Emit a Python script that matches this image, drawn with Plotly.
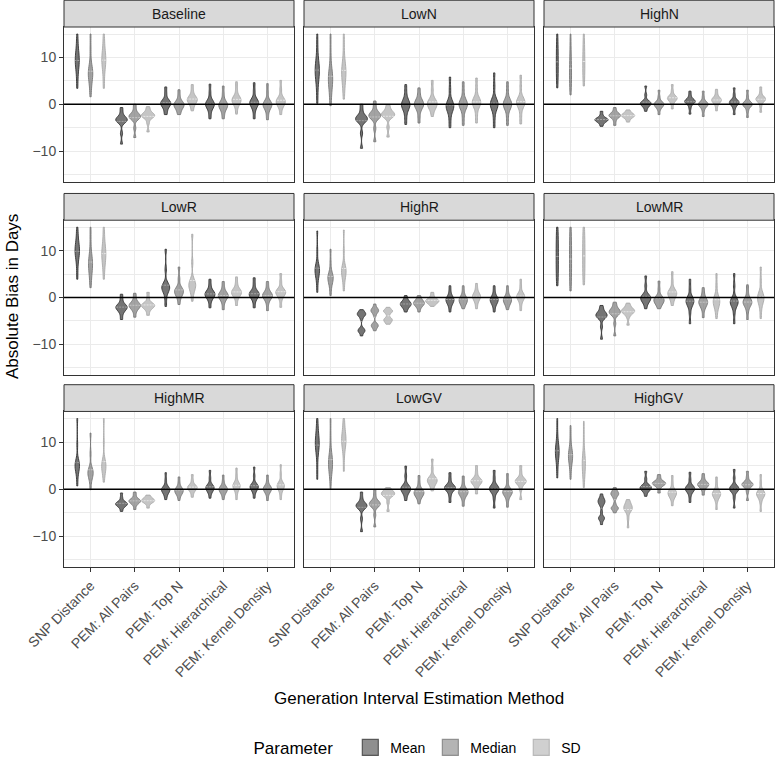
import plotly.graph_objects as go

categories = ["SNP Distance", "PEM: All Pairs", "PEM: Top N", "PEM: Hierarchical", "PEM: Kernel Density"]
panels = ["Baseline", "LowN", "HighN", "LowR", "HighR", "LowMR", "HighMR", "LowGV", "HighGV"]
parameters = ["Mean", "Median", "SD"]

# Each violin: representative bias values (days), one list per method
baseline_mean = [[3.4, 5.5, 7.6, 8.3, 8.9, 9.4, 9.9, 10.5, 11.2, 13.1, 15.0],
                 [-8.5, -6.2, -3.9, -3.7, -3.5, -3.3, -3.1, -2.9, -2.7, -1.7, -0.7],
                 [-2.2, -1.4, -0.5, -0.25, 0.0, 0.2, 0.4, 0.65, 0.9, 2.3, 3.7],
                 [-3.1, -1.9, -0.8, -0.5, -0.22, 0.0, 0.22, 0.5, 0.8, 2.5, 4.3],
                 [-3.1, -1.6, -0.5, -0.2, 0.08, 0.3, 0.52, 0.8, 1.1, 2.8, 4.6]]
baseline_median = [[1.6, 3.3, 5.0, 5.6, 6.15, 6.6, 7.05, 7.6, 8.2, 11.5, 15.0],
                   [-7.1, -5.1, -3.2, -3.0, -2.8, -2.6, -2.4, -2.2, -2.0, -1.0, 0.0],
                   [-2.2, -1.5, -0.8, -0.55, -0.3, -0.1, 0.1, 0.35, 0.6, 1.8, 3.1],
                   [-3.1, -2.0, -1.0, -0.7, -0.42, -0.2, 0.02, 0.3, 0.6, 2.2, 3.9],
                   [-3.3, -2.0, -0.9, -0.6, -0.32, -0.1, 0.12, 0.4, 0.7, 2.5, 4.4]]
baseline_sd = [[3.4, 5.5, 7.7, 8.4, 9.0, 9.5, 10.0, 10.6, 11.3, 13.2, 15.0],
               [-5.9, -4.0, -2.94, -2.73, -2.55, -2.4, -2.25, -2.07, -1.86, -1.2, -0.5],
               [-1.4, -0.4, 0.28, 0.56, 0.8, 1.0, 1.2, 1.44, 1.72, 2.9, 4.2],
               [-2.1, -0.6, 0.1, 0.4, 0.68, 0.9, 1.12, 1.4, 1.7, 3.2, 4.8],
               [-2.2, -0.8, -0.2, 0.1, 0.38, 0.6, 0.82, 1.1, 1.4, 3.2, 5.1]]

lown_mean = [[0.2, 2.7, 5.2, 6.0, 6.65, 7.2, 7.75, 8.4, 9.2, 12.0, 15.0],
             [-9.4, -6.2, -3.8, -3.55, -3.3, -3.1, -2.9, -2.65, -2.4, -1.2, 0.0],
             [-4.3, -2.6, -1.1, -0.7, -0.38, -0.1, 0.18, 0.5, 0.9, 2.5, 4.2],
             [-5.0, -3.2, -1.5, -1.06, -0.7, -0.4, -0.1, 0.26, 0.7, 3.2, 5.8],
             [-5.0, -2.9, -1.1, -0.66, -0.3, 0.0, 0.3, 0.66, 1.1, 3.9, 6.7]]
lown_median = [[-0.3, 1.7, 3.5, 4.3, 4.95, 5.5, 6.05, 6.7, 7.5, 11.0, 15.0],
               [-8.0, -5.2, -3.1, -2.85, -2.6, -2.4, -2.2, -1.95, -1.7, -0.5, 0.7],
               [-4.0, -2.4, -0.9, -0.55, -0.25, 0.0, 0.25, 0.55, 0.9, 2.2, 3.5],
               [-4.5, -2.7, -1.0, -0.6, -0.28, 0.0, 0.28, 0.6, 1.0, 2.9, 4.8],
               [-4.5, -2.7, -1.0, -0.6, -0.28, 0.0, 0.28, 0.6, 1.0, 2.9, 4.8]]
lown_sd = [[1.1, 3.2, 4.9, 5.7, 6.35, 6.9, 7.45, 8.1, 8.9, 12.0, 15.0],
           [-7.0, -4.9, -2.83, -2.6, -2.38, -2.2, -2.02, -1.8, -1.57, -0.8, -0.1],
           [-2.6, -1.2, -0.7, -0.35, -0.05, 0.2, 0.45, 0.75, 1.1, 3.1, 5.1],
           [-4.0, -2.3, -0.6, -0.2, 0.12, 0.4, 0.68, 1.0, 1.4, 3.5, 5.6],
           [-4.2, -2.4, -0.6, -0.2, 0.12, 0.4, 0.68, 1.0, 1.4, 3.8, 6.2]]

highn_mean = [[3.5, 4.7, 5.8, 6.9, 8.0, 9.0, 10.0, 11.1, 12.3, 13.6, 15.0],
              [-4.7, -4.1, -3.7, -3.55, -3.41, -3.3, -3.19, -3.05, -2.9, -2.3, -1.5],
              [-1.5, -0.7, -0.3, -0.1, 0.06, 0.2, 0.34, 0.5, 0.7, 2.0, 3.9],
              [-2.1, -0.8, 0.1, 0.3, 0.46, 0.6, 0.74, 0.9, 1.1, 1.9, 2.8],
              [-2.2, -0.9, -0.14, 0.07, 0.25, 0.4, 0.55, 0.73, 0.94, 2.1, 3.5]]
highn_median = [[2.0, 3.5, 4.7, 5.6, 6.3, 7.0, 7.9, 9.2, 10.8, 12.8, 15.0],
                [-4.5, -3.6, -2.85, -2.68, -2.52, -2.4, -2.28, -2.12, -1.95, -1.4, -0.7],
                [-2.2, -1.1, -0.54, -0.33, -0.15, 0.0, 0.15, 0.33, 0.54, 1.6, 3.0],
                [-2.6, -1.4, -0.54, -0.33, -0.15, 0.0, 0.15, 0.33, 0.54, 1.6, 2.8],
                [-2.8, -1.5, -0.54, -0.33, -0.15, 0.0, 0.15, 0.33, 0.54, 1.7, 3.0]]
highn_sd = [[3.9, 5.1, 6.2, 7.2, 8.0, 8.8, 9.8, 10.9, 12.1, 13.5, 15.0],
            [-3.8, -3.2, -2.8, -2.65, -2.51, -2.4, -2.29, -2.15, -2.0, -1.6, -1.2],
            [-1.0, 0.1, 0.76, 0.97, 1.15, 1.3, 1.45, 1.63, 1.84, 2.9, 4.2],
            [-1.4, -0.3, 0.36, 0.57, 0.75, 0.9, 1.05, 1.23, 1.44, 2.3, 3.2],
            [-1.7, -0.4, 0.56, 0.77, 0.95, 1.1, 1.25, 1.43, 1.64, 2.6, 3.7]]

lowr_mean = [[3.9, 6.2, 8.4, 9.0, 9.55, 10.0, 10.45, 11.0, 11.6, 13.3, 15.0],
             [-4.7, -3.5, -2.73, -2.49, -2.28, -2.1, -1.92, -1.71, -1.47, -0.4, 0.7],
             [-1.9, -0.2, 1.2, 1.55, 1.85, 2.1, 2.35, 2.65, 3.0, 6.0, 10.3],
             [-2.2, -0.8, -0.02, 0.26, 0.5, 0.7, 0.9, 1.14, 1.42, 2.6, 3.9],
             [-2.2, -0.8, -0.02, 0.26, 0.5, 0.7, 0.9, 1.14, 1.42, 2.8, 4.2]]
lowr_median = [[2.1, 3.8, 5.4, 6.1, 6.7, 7.2, 7.7, 8.3, 9.0, 12.0, 15.0],
               [-4.2, -3.0, -2.33, -2.09, -1.88, -1.7, -1.52, -1.31, -1.07, -0.1, 0.9],
               [-1.5, -0.3, 0.5, 0.8, 1.08, 1.3, 1.52, 1.8, 2.1, 4.0, 6.5],
               [-2.6, -1.2, -0.32, -0.04, 0.2, 0.4, 0.6, 0.84, 1.12, 2.2, 3.4],
               [-2.8, -1.3, -0.32, -0.04, 0.2, 0.4, 0.6, 0.84, 1.12, 2.2, 3.4]]
lowr_sd = [[3.9, 6.0, 7.5, 8.2, 8.8, 9.3, 9.8, 10.4, 11.1, 13.0, 15.0],
           [-3.8, -2.8, -2.24, -2.03, -1.85, -1.7, -1.55, -1.37, -1.16, -0.1, 1.1],
           [-0.8, 0.8, 1.7, 2.04, 2.42, 2.7, 2.98, 3.36, 3.8, 7.5, 13.5],
           [-1.7, -0.3, 0.38, 0.66, 0.9, 1.1, 1.3, 1.54, 1.82, 3.0, 4.4],
           [-2.1, -0.5, 0.38, 0.66, 0.9, 1.1, 1.3, 1.54, 1.82, 3.4, 5.1]]

highr_mean = [[1.1, 3.0, 4.54, 5.03, 5.45, 5.8, 6.15, 6.57, 7.06, 10.0, 14.2],
              [-8.2, -7.5, -7.25, -7.05, -6.85, -6.5, -4.6, -4.0, -3.8, -3.6, -3.45, -3.25, -3.0, -2.6],
              [-3.1, -2.4, -1.94, -1.73, -1.55, -1.4, -1.25, -1.07, -0.86, -0.3, 0.4],
              [-3.1, -1.9, -1.22, -0.94, -0.7, -0.5, -0.3, -0.06, 0.22, 1.3, 2.5],
              [-3.1, -1.9, -1.22, -0.94, -0.7, -0.5, -0.3, -0.06, 0.22, 1.3, 2.5]]
highr_median = [[0.4, 2.0, 3.12, 3.54, 3.9, 4.2, 4.5, 4.86, 5.28, 7.5, 10.3],
                [-7.1, -6.5, -6.2, -6.0, -5.8, -5.5, -3.9, -3.3, -3.05, -2.85, -2.65, -2.45, -2.1, -1.4],
                [-3.1, -2.2, -1.74, -1.53, -1.35, -1.2, -1.05, -0.87, -0.66, -0.1, 0.4],
                [-2.4, -1.6, -1.22, -0.94, -0.7, -0.5, -0.3, -0.06, 0.22, 1.3, 2.5],
                [-2.6, -1.7, -1.22, -0.94, -0.7, -0.5, -0.3, -0.06, 0.22, 1.3, 2.5]]
highr_sd = [[1.4, 3.1, 4.34, 4.83, 5.25, 5.6, 5.95, 6.37, 6.86, 10.0, 14.4],
            [-5.7, -5.3, -5.0, -4.8, -4.6, -4.3, -3.6, -3.15, -2.95, -2.8, -2.6, -2.1],
            [-1.9, -1.35, -1.15, -0.98, -0.83, -0.7, -0.57, -0.42, -0.25, 0.4, 1.1],
            [-2.4, -1.3, -0.52, -0.24, 0.0, 0.2, 0.4, 0.64, 0.92, 1.9, 3.0],
            [-2.8, -1.5, -0.52, -0.24, 0.0, 0.2, 0.4, 0.64, 0.92, 2.4, 3.9]]

lowmr_mean = [[2.5, 3.8, 5.0, 6.2, 7.5, 8.8, 10.0, 11.3, 12.5, 13.8, 15.0],
              [-8.9, -6.2, -4.43, -4.19, -3.98, -3.8, -3.62, -3.41, -3.17, -2.4, -1.7],
              [-2.4, -1.3, -0.82, -0.54, -0.3, -0.1, 0.1, 0.34, 0.62, 2.5, 4.6],
              [-5.6, -3.3, -1.7, -1.35, -1.05, -0.8, -0.55, -0.25, 0.1, 2.0, 3.9],
              [-5.6, -3.4, -1.9, -1.55, -1.25, -1.0, -0.75, -0.45, -0.1, 2.5, 5.1]]
lowmr_median = [[1.4, 2.8, 4.2, 5.5, 6.9, 8.2, 9.6, 10.9, 12.3, 13.6, 15.0],
                [-8.2, -5.6, -3.73, -3.49, -3.28, -3.1, -2.92, -2.71, -2.47, -1.7, -1.0],
                [-2.4, -1.6, -1.22, -0.94, -0.7, -0.5, -0.3, -0.06, 0.22, 1.8, 3.5],
                [-4.3, -2.7, -1.8, -1.5, -1.22, -1.0, -0.78, -0.5, -0.2, 0.9, 2.1],
                [-4.7, -2.9, -1.8, -1.5, -1.22, -1.0, -0.78, -0.5, -0.2, 1.2, 2.7]]
lowmr_sd = [[2.7, 4.0, 5.2, 6.4, 7.7, 8.9, 10.1, 11.3, 12.6, 13.8, 15.0],
            [-5.9, -4.2, -3.44, -3.23, -3.05, -2.9, -2.75, -2.57, -2.36, -1.8, -1.2],
            [-1.7, -0.6, 0.1, 0.4, 0.68, 0.9, 1.12, 1.4, 1.7, 3.5, 5.5],
            [-4.5, -2.8, -1.9, -1.46, -1.1, -0.8, -0.5, -0.14, 0.3, 2.6, 5.1],
            [-4.5, -2.5, -1.2, -0.76, -0.4, -0.1, 0.2, 0.56, 1.0, 3.6, 6.5]]

highmr_mean = [[0.7, 2.5, 3.83, 4.28, 4.67, 5.0, 5.33, 5.72, 6.17, 9.5, 15.0],
               [-4.7, -3.9, -3.55, -3.38, -3.22, -3.1, -2.98, -2.82, -2.65, -1.8, -0.8],
               [-2.2, -1.3, -0.73, -0.49, -0.28, -0.1, 0.08, 0.29, 0.53, 1.9, 3.5],
               [-1.9, -0.9, -0.33, -0.09, 0.12, 0.3, 0.48, 0.69, 0.93, 2.4, 4.0],
               [-1.9, -0.8, -0.13, 0.11, 0.32, 0.5, 0.68, 0.89, 1.13, 2.8, 4.7]]
highmr_median = [[-0.1, 1.6, 2.5, 2.9, 3.22, 3.5, 3.78, 4.1, 4.5, 7.5, 11.9],
                 [-4.3, -3.4, -2.95, -2.78, -2.62, -2.5, -2.38, -2.22, -2.05, -1.3, -0.6],
                 [-2.4, -1.4, -0.93, -0.69, -0.48, -0.3, -0.12, 0.09, 0.33, 1.4, 2.6],
                 [-2.2, -1.2, -0.63, -0.39, -0.18, 0.0, 0.18, 0.39, 0.63, 1.7, 3.0],
                 [-2.4, -1.2, -0.53, -0.29, -0.08, 0.1, 0.28, 0.49, 0.73, 1.8, 3.0]]
highmr_sd = [[1.5, 3.0, 3.74, 4.23, 4.65, 5.0, 5.35, 5.77, 6.26, 10.0, 15.0],
             [-4.0, -3.2, -2.8, -2.65, -2.51, -2.4, -2.29, -2.15, -2.0, -1.6, -1.25],
             [-1.7, -0.8, -0.19, 0.02, 0.2, 0.35, 0.5, 0.68, 0.89, 1.9, 3.1],
             [-2.2, -0.9, -0.02, 0.26, 0.5, 0.7, 0.9, 1.14, 1.42, 2.9, 4.5],
             [-2.2, -0.9, -0.02, 0.26, 0.5, 0.7, 0.9, 1.14, 1.42, 3.2, 5.2]]

lowgv_mean = [[2.1, 4.8, 7.9, 8.6, 9.2, 9.7, 10.2, 10.8, 11.5, 13.2, 15.0],
              [-9.0, -6.3, -4.13, -3.89, -3.68, -3.5, -3.32, -3.11, -2.87, -1.8, -0.6],
              [-2.4, -1.3, -0.62, -0.34, -0.1, 0.1, 0.3, 0.54, 0.82, 2.8, 4.9],
              [-2.8, -1.4, -0.33, -0.09, 0.12, 0.3, 0.48, 0.69, 0.93, 2.2, 3.5],
              [-4.0, -2.0, -0.62, -0.34, -0.1, 0.1, 0.3, 0.54, 0.82, 2.4, 4.0]]
lowgv_median = [[0.1, 3.0, 3.9, 4.6, 5.2, 5.7, 6.2, 6.8, 7.5, 11.0, 15.0],
                [-8.0, -5.5, -3.73, -3.49, -3.28, -3.1, -2.92, -2.71, -2.47, -1.3, -0.1],
                [-3.1, -1.9, -1.42, -1.14, -0.9, -0.7, -0.5, -0.26, 0.02, 1.4, 2.9],
                [-3.6, -2.2, -1.32, -1.04, -0.8, -0.6, -0.4, -0.16, 0.12, 1.4, 2.8],
                [-3.8, -2.3, -1.32, -1.04, -0.8, -0.6, -0.4, -0.16, 0.12, 1.7, 3.3]]
lowgv_sd = [[3.8, 6.8, 8.8, 9.4, 9.95, 10.4, 10.85, 11.4, 12.0, 13.5, 15.0],
            [-4.7, -2.8, -1.54, -1.33, -1.15, -1.0, -0.85, -0.67, -0.46, -0.1, 0.35],
            [-0.35, 0.6, 1.18, 1.46, 1.7, 1.9, 2.1, 2.34, 2.62, 4.4, 6.4],
            [-1.0, 0.3, 1.07, 1.31, 1.52, 1.7, 1.88, 2.09, 2.33, 3.6, 5.0],
            [-2.2, 0.0, 1.07, 1.31, 1.52, 1.7, 1.88, 2.09, 2.33, 3.6, 5.0]]

highgv_mean = [[2.4, 4.5, 6.4, 7.0, 7.55, 8.0, 8.45, 9.0, 9.6, 12.0, 15.0],
               [-7.5, -6.6, -6.25, -6.05, -5.85, -4.8, -3.6, -3.1, -2.85, -2.6, -2.35, -2.1, -1.7, -1.0],
               [-1.5, -0.6, -0.19, 0.02, 0.2, 0.35, 0.5, 0.68, 0.89, 2.2, 3.8],
               [-2.8, -1.5, -0.53, -0.29, -0.08, 0.1, 0.28, 0.49, 0.73, 2.1, 3.6],
               [-4.0, -1.9, -0.53, -0.29, -0.08, 0.1, 0.28, 0.49, 0.73, 2.4, 4.2]]
highgv_median = [[2.1, 4.2, 5.66, 6.22, 6.66, 7.1, 7.54, 7.98, 8.54, 11.0, 13.5],
                 [-5.0, -4.4, -4.1, -3.95, -3.8, -3.1, -2.0, -1.45, -1.2, -1.0, -0.8, -0.55, -0.2, 0.35],
                 [-0.8, 0.2, 0.8, 0.97, 1.12, 1.25, 1.38, 1.53, 1.7, 2.4, 3.1],
                 [-1.25, -0.2, 0.46, 0.67, 0.85, 1.0, 1.15, 1.33, 1.54, 2.4, 3.3],
                 [-2.4, -0.6, 0.46, 0.67, 0.85, 1.0, 1.15, 1.33, 1.54, 2.6, 3.8]]
highgv_sd = [[0.35, 2.5, 3.6, 4.4, 5.05, 5.6, 6.15, 6.8, 7.6, 11.0, 14.4],
             [-8.2, -6.2, -4.72, -4.44, -4.2, -4.0, -3.8, -3.56, -3.28, -2.7, -2.2],
             [-3.5, -2.1, -1.52, -1.24, -1.0, -0.8, -0.6, -0.36, -0.08, 1.4, 2.9],
             [-4.3, -2.6, -1.72, -1.44, -1.2, -1.0, -0.8, -0.56, -0.28, 1.1, 2.6],
             [-4.7, -2.8, -1.72, -1.44, -1.2, -1.0, -0.8, -0.56, -0.28, 1.4, 3.1]]

data = {
    "Baseline": [baseline_mean, baseline_median, baseline_sd],
    "LowN": [lown_mean, lown_median, lown_sd],
    "HighN": [highn_mean, highn_median, highn_sd],
    "LowR": [lowr_mean, lowr_median, lowr_sd],
    "HighR": [highr_mean, highr_median, highr_sd],
    "LowMR": [lowmr_mean, lowmr_median, lowmr_sd],
    "HighMR": [highmr_mean, highmr_median, highmr_sd],
    "LowGV": [lowgv_mean, lowgv_median, lowgv_sd],
    "HighGV": [highgv_mean, highgv_median, highgv_sd],
}

# kernel bandwidth for the multi-modal violins (style)
bandwidth_override = {
    ("HighR", 0, 1): 0.35, ("HighR", 1, 1): 0.35, ("HighR", 2, 1): 0.3,
    ("HighGV", 0, 1): 0.4, ("HighGV", 1, 1): 0.35,
}

base_rgb = {"Mean": (51, 51, 51), "Median": (119, 119, 119), "SD": (170, 170, 170)}
meanline_col = {"Mean": "rgba(165,165,165,0.95)", "Median": "rgba(200,200,200,0.95)", "SD": "rgba(232,232,232,0.95)"}

FONT = "Liberation Sans, Arial, Helvetica, sans-serif"
FS = 14

W, H = 775, 766
ML, MR, MT, MB = 64, 1, 27, 194
PW, PH = W - ML - MR, H - MT - MB
col_px = [(64, 294), (304, 534), (544, 774)]
row_px = [(27, 183), (222, 378), (415, 572)]
STRIP = 27

fig = go.Figure()
layout_axes = {}
shapes = []
annotations = []

for i, panel in enumerate(panels):
    r, c = divmod(i, 3)
    n = "" if i == 0 else str(i + 1)
    xa, ya = "x" + n, "y" + n
    for pi, param in enumerate(parameters):
        rgb = base_rgb[param]
        for ci, cat in enumerate(categories):
            vals = data[panel][pi][ci]
            kw = {}
            bw = bandwidth_override.get((panel, pi, ci))
            if bw is not None:
                kw["bandwidth"] = bw
            fig.add_trace(go.Violin(
                x=[cat] * len(vals), y=vals, name=param, legendgroup=param,
                showlegend=False,
                offsetgroup=param, alignmentgroup=panel, scalegroup=panel,
                scalemode="width", spanmode="hard", points=False,
                line=dict(color="rgba(%d,%d,%d,0.9)" % rgb, width=1),
                fillcolor="rgba(%d,%d,%d,0.68)" % rgb,
                meanline=dict(visible=True, color=meanline_col[param], width=1),
                xaxis=xa, yaxis=ya, hoverinfo="skip", **kw))
    x0, x1 = col_px[c]
    y0, y1 = row_px[r]
    xdom = [(x0 - ML) / PW, (x1 - ML) / PW]
    ydom = [(MT + PH - y1) / PH, (MT + PH - y0) / PH]
    bottom = (r == 2)
    left = (c == 0)
    layout_axes["xaxis" + n] = dict(
        domain=xdom, anchor=ya, type="category", categoryorder="array", categoryarray=categories,
        range=[-0.6, 4.6], showgrid=True, gridcolor="#ebebeb", gridwidth=1,
        showline=True, mirror=True, linecolor="#333333", linewidth=1, zeroline=False,
        ticks="outside" if bottom else "", ticklen=4, tickcolor="#333333", tickwidth=1,
        showticklabels=bottom, tickangle=-45,
        tickfont=dict(family=FONT, size=FS, color="#4d4d4d"))
    layout_axes["yaxis" + n] = dict(
        domain=ydom, anchor=xa, range=[-16.5, 16.5], tickmode="linear", tick0=0, dtick=10,
        showgrid=True, gridcolor="#ebebeb", gridwidth=1,
        minor=dict(dtick=5, tick0=0, showgrid=True, gridcolor="#ebebeb", gridwidth=0.6, ticks=""),
        zeroline=False,
        showline=True, mirror=True, linecolor="#333333", linewidth=1,
        ticks="outside" if left else "", ticklen=4, tickcolor="#333333", tickwidth=1,
        showticklabels=left, tickfont=dict(family=FONT, size=FS, color="#4d4d4d"))
    # reference line at zero bias
    shapes.append(dict(type="line", xref=xa + " domain", yref=ya, x0=0, x1=1, y0=0, y1=0,
                       line=dict(color="#000000", width=1.4), layer="above"))
    sh = STRIP / (y1 - y0)
    shapes.append(dict(type="rect", xref=xa + " domain", yref=ya + " domain",
                       x0=0, x1=1, y0=1, y1=1 + sh, fillcolor="#d9d9d9",
                       line=dict(color="#333333", width=1), layer="above"))
    annotations.append(dict(text=panel, xref=xa + " domain", yref=ya + " domain",
                            x=0.5, y=1 + sh / 2, showarrow=False, xanchor="center", yanchor="middle",
                            font=dict(family=FONT, size=FS, color="#1a1a1a")))

# legend entries (square keys like the reference)
for param in parameters:
    rgb = base_rgb[param]
    fig.add_trace(go.Scatter(
        x=[None], y=[None], mode="markers", name=param, legendgroup=param, showlegend=True,
        marker=dict(symbol="square", size=16, color="rgba(%d,%d,%d,0.55)" % rgb,
                    line=dict(color="rgba(%d,%d,%d,0.75)" % rgb, width=1.2)),
        xaxis="x", yaxis="y", hoverinfo="skip"))

annotations.append(dict(text="Absolute Bias in Days", xref="paper", yref="paper",
                        x=(12 - ML) / PW, y=0.5, textangle=-90, showarrow=False,
                        xanchor="center", yanchor="middle",
                        font=dict(family=FONT, size=17, color="#000000")))
annotations.append(dict(text="Generation Interval Estimation Method", xref="paper", yref="paper",
                        x=0.5, y=(MT + PH - 705) / PH, showarrow=False,
                        xanchor="center", yanchor="middle",
                        font=dict(family=FONT, size=17, color="#000000")))

fig.update_layout(
    width=W, height=H, margin=dict(l=ML, r=MR, t=MT, b=MB),
    paper_bgcolor="white", plot_bgcolor="white",
    violinmode="group", violingap=0.1, violingroupgap=0,
    shapes=shapes, annotations=annotations,
    font=dict(family=FONT),
    legend=dict(orientation="h", x=0.5, xanchor="center", y=(MT + PH - 755) / PH, yanchor="middle",
                title=dict(text="Parameter  ", font=dict(family=FONT, size=17, color="#000000"), side="left"),
                font=dict(family=FONT, size=FS, color="#000000"), itemwidth=30, itemsizing="trace",
                bgcolor="rgba(0,0,0,0)"),
    **layout_axes)

fig.write_html(
    "out.html", config={"displayModeBar": False},
    post_script=("document.documentElement.style.margin='0px';"
                 "document.documentElement.style.overflow='hidden';"
                 "document.body.style.margin='0px';"
                 "document.body.style.overflow='hidden';"
                 "document.body.style.height='766px';"))
